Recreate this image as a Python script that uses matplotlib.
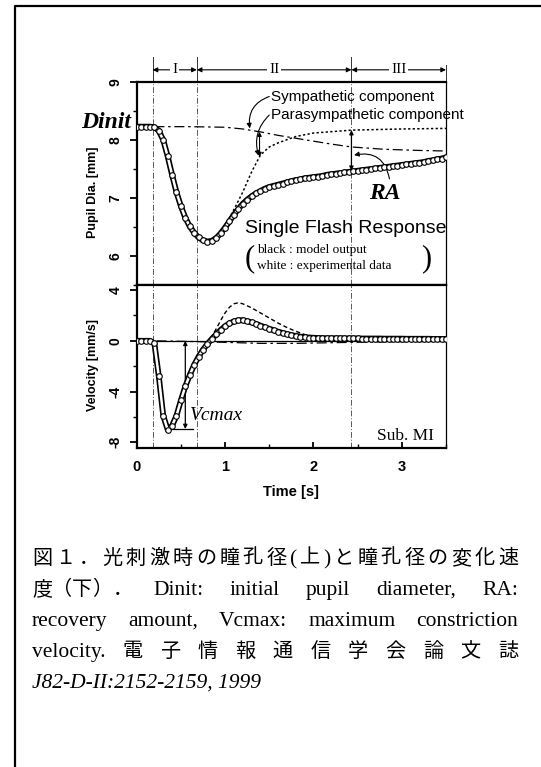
import numpy as np
import matplotlib
matplotlib.use('Agg')
import matplotlib.pyplot as plt
from matplotlib.lines import Line2D

W, H = 541, 767
plt.rcParams['font.family'] = ['Liberation Sans', 'DejaVu Sans']

# ---- data ----
t_main = np.round(np.arange(71) * 0.05, 2)
dia_main = [8.23, 8.23, 8.23, 8.23, 8.22, 8.16, 8.00, 7.72, 7.40, 7.10,
            6.86, 6.66, 6.51, 6.40, 6.32, 6.27, 6.25, 6.26, 6.31, 6.39,
            6.49, 6.60, 6.71, 6.81, 6.90, 6.97, 7.03, 7.08, 7.12, 7.16,
            7.19, 7.21, 7.23, 7.25, 7.27, 7.29, 7.31, 7.32, 7.34, 7.35,
            7.36, 7.37, 7.38, 7.40, 7.41, 7.42, 7.43, 7.44, 7.45, 7.46,
            7.47, 7.48, 7.49, 7.50, 7.51, 7.52, 7.53, 7.54, 7.55, 7.56,
            7.57, 7.58, 7.59, 7.60, 7.61, 7.62, 7.64, 7.65, 7.67, 7.68, 7.70]
vel_main = [0.0, 0.0, 0.0, 0.0, -0.2, -2.8, -5.9, -7.0, -6.7, -5.9,
            -4.7, -3.6, -2.7, -1.9, -1.25, -0.7, -0.25, 0.15, 0.5, 0.85,
            1.15, 1.38, 1.53, 1.62, 1.62, 1.55, 1.45, 1.33, 1.2, 1.07,
            0.95, 0.83, 0.72, 0.62, 0.53, 0.45, 0.38, 0.33, 0.29, 0.26,
            0.24, 0.22, 0.21, 0.2, 0.2, 0.2, 0.2, 0.19, 0.19, 0.19,
            0.19, 0.18, 0.18, 0.18, 0.18, 0.18, 0.17, 0.17, 0.17, 0.17,
            0.17, 0.16, 0.16, 0.16, 0.16, 0.16, 0.16, 0.15, 0.15, 0.15, 0.15]

# parasympathetic component (dotted, upper) and sympathetic component (dash-dot)
t_para = [0.9, 1.0, 1.1, 1.2, 1.3, 1.4, 1.5, 1.6, 1.8, 2.0, 2.43, 3.0, 3.5]
dia_para = [6.31, 6.52, 6.8, 7.1, 7.45, 7.74, 7.88, 7.95, 8.06, 8.12, 8.17, 8.19, 8.2]
t_symp = [0.2, 0.6, 1.0, 1.2, 1.4, 1.6, 1.8, 2.0, 2.2, 2.43, 2.8, 3.2, 3.5]
dia_symp = [8.23, 8.23, 8.22, 8.19, 8.14, 8.08, 8.03, 7.98, 7.93, 7.88, 7.84, 7.82, 7.81]

t_vpara = [0.75, 0.8, 0.85, 0.9, 0.95, 1.0, 1.05, 1.1, 1.15, 1.2, 1.3, 1.4, 1.5,
           1.6, 1.7, 1.8, 1.9, 2.0, 2.2, 2.5, 3.0, 3.5]
vel_para = [-0.7, -0.2, 0.35, 0.95, 1.6, 2.2, 2.65, 2.92, 3.0, 2.92, 2.6, 2.2, 1.8,
            1.4, 1.05, 0.75, 0.5, 0.35, 0.15, 0.05, 0.02, 0.0]
t_vsymp = [0.0, 0.2, 0.6, 1.0, 1.4, 1.8, 2.2, 2.6, 3.0, 3.5]
vel_symp = [0.0, 0.0, -0.05, -0.12, -0.2, -0.2, -0.15, -0.1, -0.07, -0.05]

phase_t = [0.18, 0.68, 2.43, 3.5]
phase_labels = ['I', 'II', 'III']
dinit = 8.23
vcmax = -6.95
vcmax_t = 0.55

# caption: (fixed-pitch CJK prefix, justified tokens)
caption_lines = [
    ('', list('図１．光刺激時の瞳孔径(上)と瞳孔径の変化速')),
    ('度（下）．', ['Dinit:', 'initial', 'pupil', 'diameter,', 'RA:']),
    ('', ['recovery', 'amount,', 'Vcmax:', 'maximum', 'constriction']),
    ('', ['velocity.'] + list('電子情報通信学会論文誌')),
    ('', ['J82-D-II:2152-2159, 1999']),
]


def fx(px):
    return px / W


def fy(py):
    return 1 - py / H


def chain(ax, t, y):
    # black model line with white experimental points on it
    ax.plot(t, y, color='k', lw=4.2, solid_capstyle='round', zorder=4)
    ax.plot(t, y, color='white', lw=1.8, solid_capstyle='round', zorder=5)
    ax.plot(t, y, 'o', ms=4.0, mfc='white', mec='k', mew=0.8, zorder=6)


fig = plt.figure(figsize=(W / 100, H / 100), dpi=100)

# frame (cut at right and bottom)
fig.add_artist(Line2D([fx(15), fx(15), 1], [0, fy(6), fy(6)], transform=fig.transFigure,
                      color='k', lw=1.6))

x0, x1 = 136.7, 446
ax1 = fig.add_axes([fx(x0), fy(285), (x1 - x0) / W, (285 - 82) / H])
ax2 = fig.add_axes([fx(x0), fy(448), (x1 - x0) / W, (448 - 285) / H])

for ax in (ax1, ax2):
    ax.set_xlim(0, 3.5)
    for s in ['left', 'top', 'bottom']:
        ax.spines[s].set_linewidth(1.6)
    ax.spines['right'].set_linewidth(0.9)
    for t in phase_t[:3]:
        ax.axvline(t, color='0.35', lw=0.7, ls=(0, (6, 2, 1, 2)), zorder=1)

ax1.set_ylim(5.5, 9.0)
ax2.set_ylim(-8.45, 4.4)

ax1.set_xticks([])
ax1.set_yticks([6, 7, 8, 9], labels=['6', '7', '8', '9'])
ax1.set_yticks([5.5, 6.5, 7.5, 8.5], minor=True)
ax2.set_yticks([-8, -4, 0, 4], labels=['-8', '-4', '0', '4'])
ax2.set_yticks([-6, -2, 2], minor=True)
ax2.set_xticks([0, 1, 2, 3], labels=['0', '1', '2', '3'])
ax2.set_xticks([0.5, 1.5, 2.5, 3.5], minor=True)

for ax in (ax1, ax2):
    ax.tick_params(axis='y', which='major', direction='out', length=5, width=1.3, pad=5,
                   labelsize=10)
    ax.tick_params(axis='y', which='minor', direction='out', length=3, width=1.0)
    for lab in ax.get_yticklabels():
        lab.set_rotation(90)
        lab.set_va('center')
        lab.set_fontweight('bold')
ax2.tick_params(axis='x', which='major', direction='in', length=4, width=1.3, pad=9,
                labelsize=10.5)
ax2.tick_params(axis='x', which='minor', direction='in', length=3, width=1.0)
for lab in ax2.get_xticklabels():
    lab.set_fontweight('bold')

fig.text(fx(291), fy(492), 'Time [s]', ha='center', va='center', fontsize=10.5,
         fontweight='bold')
fig.text(fx(93), fy(192), 'Pupil Dia. [mm]', rotation=90, ha='center', va='center',
         fontsize=9, fontweight='bold')
fig.text(fx(93), fy(365), 'Velocity [mm/s]', rotation=90, ha='center', va='center',
         fontsize=9, fontweight='bold')

# ---- upper panel: pupil diameter ----
ax1.plot(t_symp, dia_symp, color='k', lw=0.9, ls=(0, (8, 3, 2, 3)), zorder=3)
ax1.plot(t_para, dia_para, color='k', lw=1.1, ls=(0, (1.5, 1.5)), zorder=3)
chain(ax1, t_main, dia_main)

# phase brackets
for t in phase_t:
    top = 9.43 if t < 3.4 else 9.3
    ax1.plot([t, t], [9.0, top], color='0.2', lw=0.7, clip_on=False)
for (ta, tb), lab in zip(zip(phase_t[:-1], phase_t[1:]), phase_labels):
    ax1.annotate('', xy=(tb, 9.21), xytext=(ta, 9.21), annotation_clip=False,
                 arrowprops=dict(arrowstyle='<|-|>', color='k', lw=0.8,
                                 mutation_scale=7, shrinkA=0, shrinkB=0))
    ax1.text((ta + tb) / 2, 9.21, lab, ha='center', va='center', fontsize=11,
             family='Liberation Serif', clip_on=False,
             bbox=dict(facecolor='white', edgecolor='none', pad=1.2))

fig.text(fx(131), fy(122), 'Dinit', ha='right', va='center', fontsize=17,
         family='Liberation Serif', fontweight='bold', style='italic')

ax1.text(1.52, 8.75, 'Sympathetic component', ha='left', va='center', fontsize=11,
         clip_on=False)
ax1.text(1.52, 8.43, 'Parasympathetic component', ha='left', va='center', fontsize=11,
         clip_on=False)
ax1.annotate('', xy=(1.28, 8.2), xytext=(1.5, 8.75),
             arrowprops=dict(arrowstyle='-|>', color='k', lw=0.8, mutation_scale=7,
                             shrinkA=0, shrinkB=0, connectionstyle='arc3,rad=0.4'))
ax1.annotate('', xy=(1.38, 7.73), xytext=(1.5, 8.43),
             arrowprops=dict(arrowstyle='-|>', color='k', lw=0.8, mutation_scale=7,
                             shrinkA=0, shrinkB=0, connectionstyle='arc3,rad=0.3'))
ax1.annotate('', xy=(1.39, 7.71), xytext=(1.39, 8.14),
             arrowprops=dict(arrowstyle='<|-|>', color='k', lw=0.8, mutation_scale=6,
                             shrinkA=0, shrinkB=0))
ax1.annotate('', xy=(2.43, 7.47), xytext=(2.43, 8.17),
             arrowprops=dict(arrowstyle='<|-|>', color='k', lw=0.9, mutation_scale=6,
                             shrinkA=0, shrinkB=0))
ax1.annotate('', xy=(2.46, 7.74), xytext=(2.86, 7.33),
             arrowprops=dict(arrowstyle='-|>', color='k', lw=0.8, mutation_scale=7,
                             shrinkA=0, shrinkB=0, connectionstyle='arc3,rad=0.5'))
ax1.text(2.81, 7.08, 'RA', ha='center', va='center', fontsize=17,
         family='Liberation Serif', fontweight='bold', style='italic')

ax1.text(1.23, 6.48, 'Single Flash Response', ha='left', va='center', fontsize=14,
         clip_on=False)
ax1.text(1.36, 6.10, 'black : model output', ha='left', va='center', fontsize=9.5,
         family='Liberation Serif')
ax1.text(1.36, 5.82, 'white : experimental data', ha='left', va='center', fontsize=9.5,
         family='Liberation Serif')
ax1.text(1.28, 5.96, '(', ha='center', va='center', fontsize=22,
         family='Liberation Serif', fontweight='light')
ax1.text(3.27, 5.96, ')', ha='center', va='center', fontsize=22,
         family='Liberation Serif', fontweight='light')

# ---- lower panel: velocity ----
ax2.axhline(0, color='k', lw=0.9, zorder=2)
ax2.plot(t_vsymp, vel_symp, color='k', lw=0.9, ls=(0, (8, 3, 2, 3)), zorder=3)
ax2.plot(t_vpara, vel_para, color='k', lw=1.0, ls=(0, (3, 2)), zorder=3)
chain(ax2, t_main, vel_main)

ax2.annotate('', xy=(vcmax_t, vcmax), xytext=(vcmax_t, 0),
             arrowprops=dict(arrowstyle='<|-|>', color='k', lw=0.9, mutation_scale=6,
                             shrinkA=0, shrinkB=0))
ax2.plot([0.39, 0.64], [vcmax, vcmax], color='k', lw=0.9)
ax2.text(0.6, -5.85, 'Vcmax', ha='left', va='center', fontsize=14,
         family='Liberation Serif', style='italic')
ax2.text(3.36, -7.5, 'Sub. MI', ha='right', va='center', fontsize=12.5,
         family='Liberation Serif')

# ---- caption (justified lines) ----
renderer = fig.canvas.get_renderer()
baselines = [564, 595, 626, 657, 688]
cx0, cx1 = 32, 518
cjk_size = 14.5
pitch = cjk_size * 100 / 72
for i, ((prefix, tokens), yb) in enumerate(zip(caption_lines, baselines)):
    start = cx0
    for j, ch in enumerate(prefix):
        fig.text(fx(cx0 + j * pitch), fy(yb), ch, family=['Noto Sans CJK JP'],
                 fontsize=cjk_size, ha='left', va='baseline')
    if prefix:
        start = cx0 + len(prefix) * pitch + 21
    texts = []
    for tok in tokens:
        cjk = any(ord(c) > 0x2000 for c in tok)
        if cjk:
            fam = ['Noto Sans CJK JP']
            size = cjk_size
        else:
            fam = ['Liberation Serif', 'Noto Sans CJK JP']
            size = 15.5
        style = 'italic' if (i == 3 and cjk) or i == 4 else 'normal'
        texts.append(fig.text(fx(start), fy(yb), tok, family=fam, fontsize=size,
                              style=style, ha='left', va='baseline'))
    if len(texts) > 1:
        widths = [t.get_window_extent(renderer=renderer).width for t in texts]
        gap = (cx1 - start - sum(widths)) / (len(texts) - 1)
        x = start
        for t, w in zip(texts, widths):
            t.set_x(fx(x))
            x += w + gap

fig.savefig('out.png', dpi=100)
